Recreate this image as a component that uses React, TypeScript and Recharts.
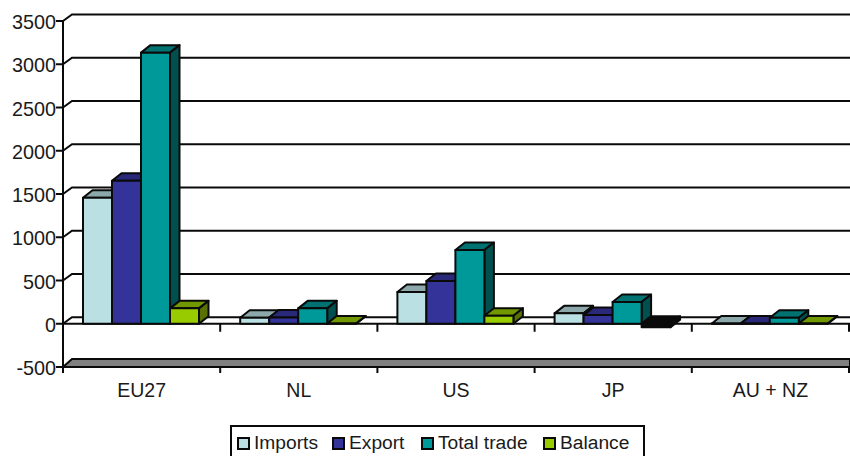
import React from 'react';
import { BarChart, Bar, XAxis, YAxis, CartesianGrid, Legend } from 'recharts';

const categories = ['EU27', 'NL', 'US', 'JP', 'AU + NZ'];
const imports = [1457, 70, 367, 120, 3];
const exportsValues = [1654, 72, 494, 100, 3];
const totalTrade = [3134, 178, 852, 251, 70];
const balance = [178, 3, 93, -40, 3];
const yTicks = [-500, 0, 500, 1000, 1500, 2000, 2500, 3000, 3500];

const seriesList = [
  { key: 'Imports', values: imports, fill: '#bbe0e3', top: '#8ca8ab', side: '#7f9a9e' },
  { key: 'Export', values: exportsValues, fill: '#333399', top: '#2a2878', side: '#1f1d5c' },
  { key: 'Total trade', values: totalTrade, fill: '#009999', top: '#007272', side: '#005050' },
  { key: 'Balance', values: balance, fill: '#99cc00', top: '#729800', side: '#5a7000' },
];

const table = categories.map((name, i) => {
  const row: Record<string, string | number> = { name };
  seriesList.forEach((s) => {
    row[s.key] = s.values[i];
  });
  return row;
});

const WIDTH = 850;
const HEIGHT = 456;
const DX = 9;
const DY = 6.5;
const BAR_DX = 9.5;
const BAR_DY = 7.5;
const FONT = '"Liberation Sans", Arial, sans-serif';
const INK = '#0a0a0a';
const TEXT = '#1a1a1a';

const bar3d = (top: string, side: string) => (props: any) => {
  const { x, y, width, height, fill, value } = props;
  const h = Math.abs(height);
  const y0 = height < 0 ? y + height : y;
  const negative = value < 0;
  const f = negative ? INK : fill;
  const t = negative ? INK : top;
  const s = negative ? INK : side;
  const sw = { stroke: INK, strokeWidth: 2, strokeLinejoin: 'round' as const };
  return (
    <g>
      <polygon
        points={`${x},${y0} ${x + BAR_DX},${y0 - BAR_DY} ${x + width + BAR_DX},${y0 - BAR_DY} ${x + width},${y0}`}
        fill={t}
        {...sw}
      />
      <polygon
        points={`${x + width},${y0} ${x + width + BAR_DX},${y0 - BAR_DY} ${x + width + BAR_DX},${y0 + h - BAR_DY} ${x + width},${y0 + h}`}
        fill={s}
        {...sw}
      />
      <rect x={x} y={y0} width={width} height={h} fill={f} {...sw} />
    </g>
  );
};

// the category ticks sit on the boundaries, on both the zero line and the floor
const boundaryTicks = (x1: number, x2: number, y: number, len: number) =>
  [0, ...categories.map((_, i) => i + 1)].map((i) => {
    const x = x1 + ((x2 - x1) * i) / categories.length;
    return <line key={i} x1={x} y1={y} x2={x} y2={y + len} stroke={INK} strokeWidth={2} />;
  });

const gridLine = (props: any) => {
  const { x1, x2, y1, index } = props;
  const value = yTicks[index];
  if (value === -500) {
    return (
      <g key={props.key}>
        <polygon
          points={`${x1},${y1} ${x1 + DX},${y1 - 8} ${x2 + 1},${y1 - 8} ${x2 + 1},${y1}`}
          fill="#808080"
          stroke={INK}
          strokeWidth={2}
        />
        {boundaryTicks(x1, x2, y1, 6)}
      </g>
    );
  }
  return (
    <g key={props.key}>
      <path
        d={`M${x1},${y1} L${x1 + DX},${y1 - DY} L${x2 + 1},${y1 - DY}`}
        fill="none"
        stroke={INK}
        strokeWidth={2}
      />
      {value === 0 && <line x1={x1} y1={y1} x2={x2 + 1} y2={y1} stroke={INK} strokeWidth={2} />}
      {value === 0 && boundaryTicks(x1, x2, y1, 8)}
    </g>
  );
};

const CategoryTick = (props: any) => {
  const { x, y, payload } = props;
  return (
    <text x={x} y={y + 22} textAnchor="middle" fontSize={19.5} fontFamily={FONT} fill={TEXT}>
      {payload.value}
    </text>
  );
};

const LegendBox = () => (
  <div
    style={{
      position: 'absolute',
      left: 230,
      top: 425,
      width: 415,
      height: 40,
      boxSizing: 'border-box',
      border: `2px solid ${INK}`,
      background: '#fff',
      fontFamily: FONT,
      fontSize: 19.2,
      color: TEXT,
      lineHeight: '32px',
    }}
  >
    {seriesList.map((s, i) => (
      <span key={s.key} style={{ position: 'absolute', left: [5, 100, 189, 311][i], top: 0, whiteSpace: 'nowrap' }}>
        <span
          style={{
            display: 'inline-block',
            width: 13,
            height: 13,
            boxSizing: 'border-box',
            border: `2px solid ${INK}`,
            background: s.fill,
            marginRight: 4,
            verticalAlign: -1,
          }}
        />
        {s.key}
      </span>
    ))}
  </div>
);

export default function App() {
  return (
    <div style={{ position: 'fixed', left: 0, top: 0, width: WIDTH, height: HEIGHT, background: '#fff', overflow: 'hidden' }}>
      <BarChart
        width={WIDTH}
        height={HEIGHT}
        data={table}
        margin={{ top: 21, right: 1, bottom: 0, left: 0 }}
        barGap={0}
        barCategoryGap={20}
      >
        <CartesianGrid horizontal={gridLine} vertical={false} />
        <XAxis
          dataKey="name"
          height={89}
          axisLine={false}
          tickLine={false}
          interval={0}
          tick={(p: any) => <CategoryTick {...p} />}
        />
        <YAxis
          width={63}
          domain={[-500, 3500]}
          ticks={yTicks}
          interval={0}
          allowDataOverflow
          stroke={INK}
          strokeWidth={2}
          tickSize={7}
          tickMargin={0}
          tick={{ fontSize: 19.8, fontFamily: FONT, fill: TEXT, strokeWidth: 0, dy: 1 }}
        />
        <Legend content={() => null} height={0} />
        {seriesList.map((s) => (
          <Bar key={s.key} dataKey={s.key} fill={s.fill} shape={bar3d(s.top, s.side)} isAnimationActive={false} />
        ))}
      </BarChart>
      <LegendBox />
    </div>
  );
}
